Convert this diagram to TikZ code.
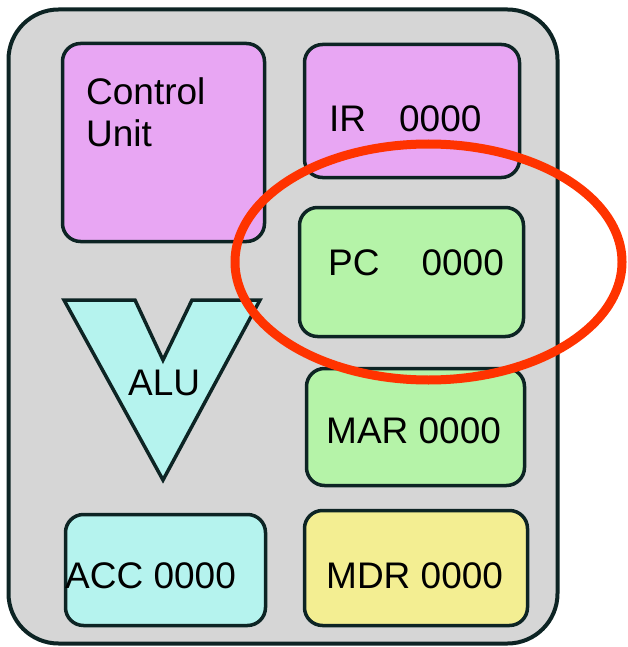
\documentclass[tikz,border=0pt]{standalone}
\usepackage{fontspec}
\setmainfont{Liberation Sans}
\definecolor{cpugray}{HTML}{D6D6D6}
\definecolor{edge}{HTML}{0D2424}
\definecolor{magentafill}{HTML}{E8A6F3}
\definecolor{greenfill}{HTML}{B5F3A8}
\definecolor{cyanfill}{HTML}{B5F3EE}
\definecolor{yellowfill}{HTML}{F3EE92}
\definecolor{ring}{HTML}{FF3300}
\begin{document}
\begin{tikzpicture}[x=1pt,y=-1pt,
  regbox/.style={draw=edge, line width=3.5pt, rounded corners=18pt, inner sep=0pt},
  label/.style={inner sep=0pt, anchor=base west, font=\fontsize{37}{42}\selectfont}]
\useasboundingbox (0,0) rectangle (627,647);
% outer CPU box
\node[draw=edge, line width=4pt, fill=cpugray, rounded corners=50pt, inner sep=0pt,
      minimum width=549pt, minimum height=634pt] (cpu) at (283,326.5) {};
% register boxes
\node[regbox, fill=magentafill, minimum width=202pt, minimum height=198pt] (cu) at (163.5,142.5) {};
\node[regbox, fill=magentafill, minimum width=215pt, minimum height=133pt] (ir) at (412,111) {};
\node[regbox, fill=greenfill, minimum width=224pt, minimum height=129pt] (pc) at (411.5,272) {};
\node[regbox, fill=greenfill, minimum width=218pt, minimum height=117pt] (mar) at (415.5,427) {};
\node[regbox, fill=yellowfill, minimum width=223pt, minimum height=115pt] (mdr) at (416,568) {};
\node[regbox, fill=cyanfill, minimum width=200pt, minimum height=111pt] (acc) at (165.5,570) {};
% ALU
\draw[draw=edge, fill=cyanfill, line width=3.5pt, line join=miter]
  (64,300) -- (135,300) -- (163,360) -- (192,300) -- (260,300) -- (163,480) -- cycle;
% texts
\node[label, anchor=north west, align=left] (cutext) at (86,77) {Control\\Unit};
\node[label] (irtext) at (329,132) {IR\hspace{33pt}0000};
\node[label] (pctext) at (328,275) {PC\hspace{42pt}0000};
\node[label] (martext) at (326,443) {MAR 0000};
\node[label] (mdrtext) at (326,588) {MDR 0000};
\node[label] (acctext) at (65,588) {ACC 0000};
\node[label] (alutext) at (128,395) {ALU};
% highlight ring
\draw[ring, line width=9pt] (428.5,262) ellipse [x radius=193.5pt, y radius=118pt];
\end{tikzpicture}
\end{document}
